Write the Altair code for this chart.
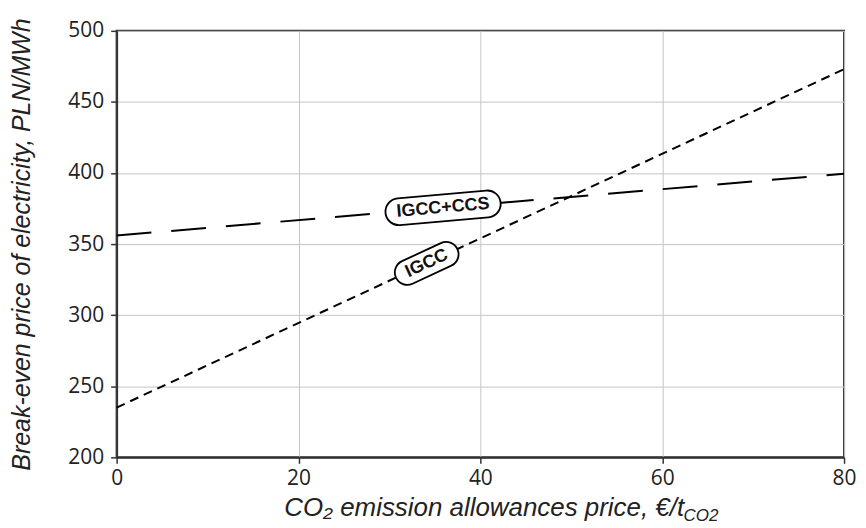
import altair as alt
import pandas as pd

# ---- data ----
x_vals = [0, 80]
igcc = [235, 473]
igcc_ccs = [356, 399.5]

x_ticks = [0, 20, 40, 60, 80]
y_ticks = [200, 250, 300, 350, 400, 450, 500]

label_names = ["IGCC+CCS", "IGCC"]
label_x = [35.9, 34.1]
label_y = [375.5, 336.4]

lines = pd.DataFrame({
    "x": x_vals * 2,
    "y": igcc + igcc_ccs,
    "series": ["IGCC"] * len(x_vals) + ["IGCC+CCS"] * len(x_vals),
})
labels = pd.DataFrame({"name": label_names, "x": label_x, "y": label_y})


def stadium(half_h):
    """rounded box path in the [-1,1] symbol space (width 2, height 2*half_h)"""
    r = half_h
    a = 1 - r
    k = 0.5523 * r
    return (
        f"M {-a},{-r} L {a},{-r} "
        f"C {a + k},{-r} {1},{-k} {1},0 "
        f"C {1},{k} {a + k},{r} {a},{r} "
        f"L {-a},{r} "
        f"C {-a - k},{r} {-1},{k} {-1},0 "
        f"C {-1},{-k} {-a - k},{-r} {-a},{-r} Z"
    )


xscale = alt.Scale(domain=[0, 80], nice=False, zero=False)
yscale = alt.Scale(domain=[200, 500], nice=False, zero=False)

x_axis = alt.Axis(
    values=x_ticks, title="CO₂ emission allowances price, €/t",
    titleX=569, titleY=58, titleAlign="right", titleBaseline="alphabetic",
    titleFontSize=26, labelFlush=False,
)
y_axis = alt.Axis(
    values=y_ticks, title="Break-even price of electricity, PLN/MWh",
    titleX=-87, titleY=214, titleAngle=270, titleAlign="center",
    titleBaseline="alphabetic", titleFontSize=25, labelFlush=False,
)
X = alt.X("x:Q", scale=xscale, axis=x_axis)
Y = alt.Y("y:Q", scale=yscale, axis=y_axis)

base = alt.Chart(lines)
line_ccs = base.transform_filter(alt.datum.series == "IGCC+CCS").mark_line(
    color="black", strokeWidth=2, strokeDash=[35, 20]
).encode(x=X, y=Y)
line_igcc = base.transform_filter(alt.datum.series == "IGCC").mark_line(
    color="black", strokeWidth=2, strokeDash=[9, 6]
).encode(x=X, y=Y)

lab = alt.Chart(labels)
box_ccs = lab.transform_filter(alt.datum.name == "IGCC+CCS").mark_point(
    shape=stadium(13.5 / 58), size=116 * 116, filled=True, fill="white",
    stroke="black", strokeWidth=1.8, opacity=1, angle=355,
).encode(x=X, y=Y)
box_igcc = lab.transform_filter(alt.datum.name == "IGCC").mark_point(
    shape=stadium(12.5 / 34), size=68 * 68, filled=True, fill="white",
    stroke="black", strokeWidth=1.8, opacity=1, angle=335,
).encode(x=X, y=Y)
txt_ccs = lab.transform_filter(alt.datum.name == "IGCC+CCS").mark_text(
    font="Liberation Sans", fontWeight="bold", fontSize=18, color="#111",
    align="center", baseline="middle", angle=355,
).encode(x=X, y=Y, text="name:N")
txt_igcc = lab.transform_filter(alt.datum.name == "IGCC").mark_text(
    font="Liberation Sans", fontWeight="bold", fontSize=18, color="#111",
    align="center", baseline="middle", angle=335,
).encode(x=X, y=Y, text="name:N")

subscript = alt.Chart(pd.DataFrame({"t": ["CO2"]})).mark_text(
    font="Liberation Sans", fontStyle="italic", fontSize=17, color="#222",
    align="left", baseline="alphabetic",
).encode(x=alt.value(569), y=alt.value(492), text="t:N")

chart = alt.layer(
    line_ccs, line_igcc, box_ccs, box_igcc, txt_ccs, txt_igcc, subscript
).properties(
    width=730, height=428,
    autosize=alt.AutoSizeParams(type="none"),
    padding={"left": 109, "top": 22, "right": 14, "bottom": 70},
).configure_view(
    stroke="#333", strokeWidth=2
).configure_axis(
    grid=True, gridColor="#c4c4c4", gridWidth=1,
    domainColor="#333", domainWidth=2,
    tickColor="#333", tickWidth=1.5, tickSize=6,
    labelFont="Open Sans", labelFontSize=21, labelColor="#222", labelPadding=7,
    titleFont="Liberation Sans", titleFontStyle="italic", titleFontWeight="normal",
    titleColor="#222",
).configure_axisX(labelPadding=4)

chart.save("out.html", embed_options={"renderer": "svg", "actions": False})
